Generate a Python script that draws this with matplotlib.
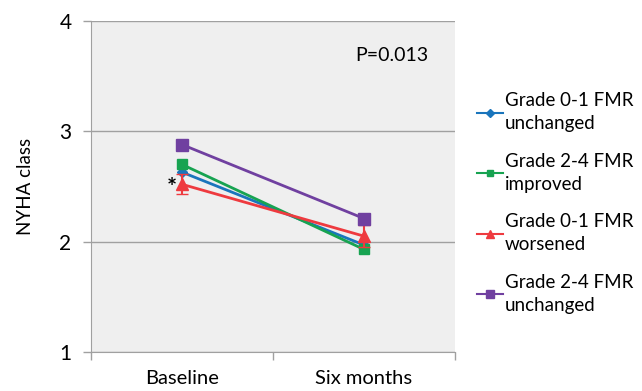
import numpy as np
import matplotlib
matplotlib.use("Agg")
from matplotlib import pyplot as plt
from matplotlib.lines import Line2D

plt.rcParams['font.family'] = ['Lato', 'DejaVu Sans']

categories = ["Baseline", "Six months"]
series_names = ["Grade 0-1 FMR\nunchanged", "Grade 2-4 FMR\nimproved",
                "Grade 0-1 FMR\nworsened", "Grade 2-4 FMR\nunchanged"]
blue_vals = [2.63, 1.97]
green_vals = [2.70, 1.93]
red_vals = [2.52, 2.05]
red_err = [0.09, 0.10]
purple_vals = [2.88, 2.21]

colors = ["#1a75bc", "#17a351", "#ee3a3f", "#7040a0"]
markers = ["D", "s", "^", "s"]
msizes = [5, 7, 8, 8]

fig = plt.figure(figsize=(6.42, 3.91), dpi=100)
ax = fig.add_axes([0.1417, 0.0997, 0.5670, 0.8466])
ax.set_facecolor("#efefef")

x = np.arange(len(categories))
all_vals = [blue_vals, green_vals, red_vals, purple_vals]
for i, vals in enumerate(all_vals):
    if i == 2:
        ax.errorbar(x, vals, yerr=red_err, color=colors[i], marker=markers[i],
                    markersize=msizes[i], linewidth=2, capsize=4, elinewidth=1.5,
                    zorder=3)
    else:
        ax.plot(x, vals, color=colors[i], marker=markers[i], markersize=msizes[i],
                linewidth=2, zorder=3)

ax.text(-0.055, 2.48, "*", fontsize=17, ha="center", va="center",
        fontweight="bold")

ax.set_xlim(-0.5, 1.5)
ax.set_ylim(1, 4)
ax.set_yticks([1, 2, 3, 4])
ax.set_xticks(x)
ax.set_xticklabels(categories, fontsize=14.5)
ax.set_xticks([-0.5, 0.5, 1.5], minor=True)
ax.tick_params(axis="x", which="major", length=0, pad=13)
ax.tick_params(axis="x", which="minor", length=6, color="#a0a0a0", width=1)
ax.tick_params(axis="y", labelsize=15, length=6, color="#a0a0a0", width=1, pad=8)
ax.grid(axis="y", color="#a0a0a0", linewidth=1)
ax.set_axisbelow(True)
for s in ["top", "right"]:
    ax.spines[s].set_visible(False)
for s in ["left", "bottom"]:
    ax.spines[s].set_color("#a0a0a0")
ax.set_ylabel("NYHA class", fontsize=13.5, labelpad=18)

ax.text(0.827, 0.897, "P=0.013", transform=ax.transAxes, fontsize=14,
        ha="center", va="center")

leg_sizes = [4, 5, 6, 6]
handles = [Line2D([], [], color=colors[i], marker=markers[i],
                  markersize=leg_sizes[i], linewidth=1.5)
           for i in range(len(series_names))]
leg = ax.legend(handles, series_names, loc="center left",
                bbox_to_anchor=(1.0, 0.45), frameon=False, fontsize=13.5,
                handlelength=1.35, handletextpad=0.1,
                labelspacing=1.08, borderaxespad=0.8)
for t in leg.get_texts():
    t.set_linespacing(1.45)

plt.savefig("out.png", dpi=100)
plt.close(fig)
